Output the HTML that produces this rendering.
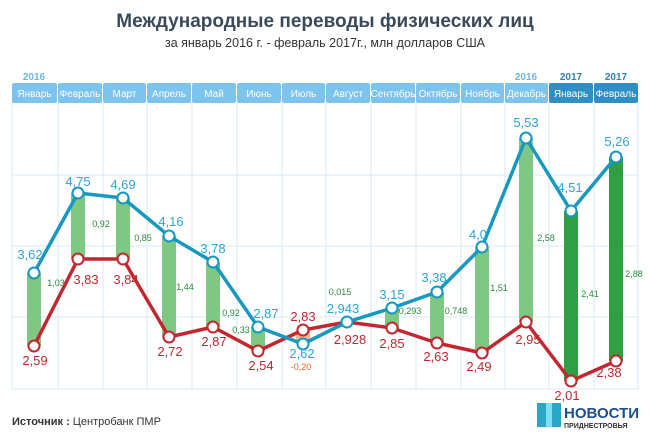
<!DOCTYPE html><html><head><meta charset="utf-8"><style>body{margin:0;background:#fff}svg{display:block}text{font-family:"Liberation Sans",sans-serif}</style></head><body>
<svg width="650" height="433" viewBox="0 0 650 433">
<text x="325" y="27" text-anchor="middle" font-size="19" font-weight="bold" fill="#3a4a5a">Международные переводы физических лиц</text>
<text x="325" y="47" text-anchor="middle" font-size="12.5" fill="#333">за январь 2016 г. -  февраль 2017г., млн долларов США</text>
<g stroke="#d6e8f4" stroke-width="1" fill="none">
<line x1="12" y1="175" x2="638" y2="175"/><line x1="12" y1="246" x2="638" y2="246"/><line x1="12" y1="317" x2="638" y2="317"/><line x1="12" y1="389" x2="638" y2="389"/>
<line x1="12" y1="103" x2="12" y2="389"/><line x1="58" y1="103" x2="58" y2="389"/><line x1="103" y1="103" x2="103" y2="389"/><line x1="147" y1="103" x2="147" y2="389"/><line x1="192" y1="103" x2="192" y2="389"/><line x1="237" y1="103" x2="237" y2="389"/><line x1="282" y1="103" x2="282" y2="389"/><line x1="326" y1="103" x2="326" y2="389"/><line x1="371" y1="103" x2="371" y2="389"/><line x1="416" y1="103" x2="416" y2="389"/><line x1="461" y1="103" x2="461" y2="389"/><line x1="505" y1="103" x2="505" y2="389"/><line x1="549" y1="103" x2="549" y2="389"/><line x1="594" y1="103" x2="594" y2="389"/><line x1="638" y1="103" x2="638" y2="389"/>
</g>
<g font-size="10" fill="#fff" text-anchor="middle">
<rect x="12" y="83" width="45" height="20" rx="2" fill="#7cc3ee"/><text x="34.5" y="97">Январь</text>
<rect x="58" y="83" width="44" height="20" rx="2" fill="#7cc3ee"/><text x="80" y="97">Февраль</text>
<rect x="103" y="83" width="43" height="20" rx="2" fill="#7cc3ee"/><text x="124.5" y="97">Март</text>
<rect x="147" y="83" width="44" height="20" rx="2" fill="#7cc3ee"/><text x="169" y="97">Апрель</text>
<rect x="192" y="83" width="44" height="20" rx="2" fill="#7cc3ee"/><text x="214" y="97">Май</text>
<rect x="237" y="83" width="44" height="20" rx="2" fill="#7cc3ee"/><text x="259" y="97">Июнь</text>
<rect x="282" y="83" width="43" height="20" rx="2" fill="#7cc3ee"/><text x="303.5" y="97">Июль</text>
<rect x="326" y="83" width="44" height="20" rx="2" fill="#7cc3ee"/><text x="348" y="97">Август</text>
<rect x="371" y="83" width="44" height="20" rx="2" fill="#7cc3ee"/><text x="393" y="97">Сентябрь</text>
<rect x="416" y="83" width="44" height="20" rx="2" fill="#7cc3ee"/><text x="438" y="97">Октябрь</text>
<rect x="461" y="83" width="43" height="20" rx="2" fill="#7cc3ee"/><text x="482.5" y="97">Ноябрь</text>
<rect x="505" y="83" width="43" height="20" rx="2" fill="#7cc3ee"/><text x="526.5" y="97">Декабрь</text>
<rect x="549" y="83" width="44" height="20" rx="2" fill="#2f8fc4"/><text x="571" y="97">Январь</text>
<rect x="594" y="83" width="44" height="20" rx="2" fill="#2f8fc4"/><text x="616" y="97">Февраль</text>
</g>
<g font-size="10" font-weight="bold" text-anchor="middle"><text x="34" y="80" fill="#6ab8e4">2016</text><text x="526" y="80" fill="#6ab8e4">2016</text><text x="571" y="80" fill="#2f7fb0">2017</text><text x="616" y="80" fill="#2f7fb0">2017</text></g>
<g fill="#7fc884">
<rect x="27" y="273" width="14" height="73"/><rect x="71" y="193" width="14" height="66"/><rect x="116" y="198" width="14" height="61"/><rect x="162" y="236" width="14" height="101"/><rect x="206" y="262" width="14" height="65"/><rect x="251" y="327" width="14" height="24"/><rect x="385" y="308" width="14" height="20"/><rect x="430" y="292" width="14" height="51"/><rect x="475" y="247" width="14" height="106"/><rect x="519" y="138" width="14" height="184"/>
</g>
<rect x="296" y="330" width="14" height="14" fill="#f4b393"/>
<g fill="#2ea043"><rect x="564" y="211" width="14" height="170"/><rect x="609" y="157" width="14" height="204"/></g>
<polyline fill="none" stroke="#c4262e" stroke-width="3.5" stroke-linejoin="round" points="34,346 78,259 123,259 169,337 213,327 258,351 303,330 347,322 392,328 437,343 482,353 526,322 571,381 616,361"/>
<polyline fill="none" stroke="#1698c0" stroke-width="3.5" stroke-linejoin="round" points="34,273 78,193 123,198 169,236 213,262 258,327 303,344 347,322 392,308 437,292 482,247 526,138 571,211 616,157"/>
<g fill="#fff" stroke="#c4262e" stroke-width="2"><circle cx="34" cy="346" r="5.5"/><circle cx="78" cy="259" r="5.5"/><circle cx="123" cy="259" r="5.5"/><circle cx="169" cy="337" r="5.5"/><circle cx="213" cy="327" r="5.5"/><circle cx="258" cy="351" r="5.5"/><circle cx="303" cy="330" r="5.5"/><circle cx="392" cy="328" r="5.5"/><circle cx="437" cy="343" r="5.5"/><circle cx="482" cy="353" r="5.5"/><circle cx="526" cy="322" r="5.5"/><circle cx="571" cy="381" r="5.5"/><circle cx="616" cy="361" r="5.5"/></g>
<g fill="#fff" stroke="#1698c0" stroke-width="2"><circle cx="34" cy="273" r="5.5"/><circle cx="78" cy="193" r="5.5"/><circle cx="123" cy="198" r="5.5"/><circle cx="169" cy="236" r="5.5"/><circle cx="213" cy="262" r="5.5"/><circle cx="258" cy="327" r="5.5"/><circle cx="303" cy="344" r="5.5"/><circle cx="347" cy="322" r="5.5"/><circle cx="392" cy="308" r="5.5"/><circle cx="437" cy="292" r="5.5"/><circle cx="482" cy="247" r="5.5"/><circle cx="526" cy="138" r="5.5"/><circle cx="571" cy="211" r="5.5"/><circle cx="616" cy="157" r="5.5"/></g>
<g font-size="13" fill="#2ba5d8" text-anchor="middle"><text x="30" y="259">3,62</text><text x="78" y="186">4,75</text><text x="123" y="189">4,69</text><text x="171" y="226">4,16</text><text x="213" y="253">3,78</text><text x="266" y="318">2,87</text><text x="302" y="358">2,62</text><text x="343" y="313">2,943</text><text x="392" y="299">3,15</text><text x="434" y="282">3,38</text><text x="478" y="239">4,0</text><text x="526" y="127">5,53</text><text x="570" y="192">4,51</text><text x="617" y="146">5,26</text></g>
<g font-size="13" fill="#c4262e" text-anchor="middle"><text x="35" y="365">2,59</text><text x="86" y="284">3,83</text><text x="126" y="284">3,84</text><text x="170" y="356">2,72</text><text x="214" y="346">2,87</text><text x="261" y="370">2,54</text><text x="303" y="321">2,83</text><text x="350" y="344">2,928</text><text x="392" y="348">2,85</text><text x="436" y="361">2,63</text><text x="479" y="371">2,49</text><text x="528" y="344">2,95</text><text x="567" y="400">2,01</text><text x="609" y="377">2,38</text></g>
<g font-size="9" fill="#2a8a3a" text-anchor="middle"><text x="56" y="286">1,03</text><text x="101" y="227">0,92</text><text x="143" y="241">0,85</text><text x="185" y="290">1,44</text><text x="231" y="316">0,92</text><text x="241" y="333">0,33</text><text x="340" y="295">0,015</text><text x="410" y="314">0,293</text><text x="456" y="314">0,748</text><text x="499" y="291">1,51</text><text x="546" y="241">2,58</text><text x="590" y="297">2,41</text><text x="634" y="277">2,88</text></g>
<text x="301" y="370" font-size="9" fill="#e8641e" text-anchor="middle">-0,20</text>
<text x="12" y="425" font-size="11" fill="#333"><tspan font-weight="bold">Источник :</tspan> Центробанк ПМР</text>
<rect x="537" y="403" width="24" height="24" fill="#2aa6c9"/><rect x="546" y="403" width="6" height="24" fill="#7fe0f0"/>
<text x="564" y="418" font-size="15" font-weight="bold" fill="#1f4e8c">НОВОСТИ</text>
<text x="564" y="428" font-size="7" font-weight="bold" fill="#333">ПРИДНЕСТРОВЬЯ</text>
</svg></body></html>
